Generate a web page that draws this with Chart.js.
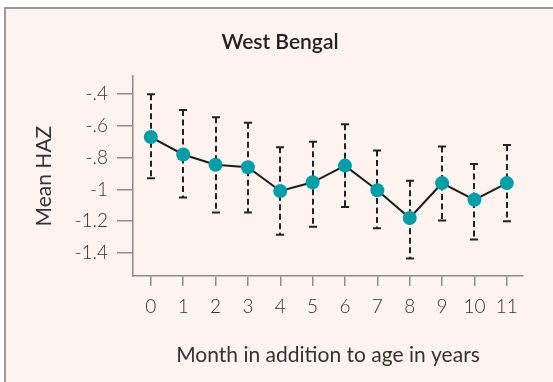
<!DOCTYPE html>
<html>
<head>
<meta charset="utf-8">
<script src="https://cdn.jsdelivr.net/npm/chart.js@4.4.1/dist/chart.umd.min.js"></script>
<style>
body { margin: 0; background: #fff; }
#frame { position: absolute; left: 4px; top: 7px; width: 560px; height: 390px;
  border-left: 2px solid #9b9b9b; border-top: 2px solid #9b9b9b; background: #fef3ee; }
#myChart { position: absolute; left: 0; top: 0; }
</style>
</head>
<body>
<div id="frame"></div>
<canvas id="myChart" width="553" height="382"></canvas>
<script>
// months after whole years, mean HAZ with upper / lower error bar ends
var months = [0, 1, 2, 3, 4, 5, 6, 7, 8, 9, 10, 11];
var meanHAZ = [-0.67, -0.78, -0.845, -0.86, -1.01, -0.955, -0.85, -1.005, -1.18, -0.96, -1.065, -0.96];
var upperCI = [-0.40, -0.50, -0.545, -0.58, -0.735, -0.70, -0.59, -0.755, -0.945, -0.73, -0.84, -0.72];
var lowerCI = [-0.93, -1.05, -1.145, -1.145, -1.285, -1.235, -1.11, -1.245, -1.435, -1.195, -1.315, -1.20];
var yTicks = [-0.4, -0.6, -0.8, -1, -1.2, -1.4];
var yTickLabels = ['-.4', '-.6', '-.8', '-1', '-1.2', '-1.4'];

var axisGrey = '#8c8c8c';

//dashed error bars with solid caps, drawn under the points
var errorBars = {
    id: 'errorBars',
    beforeDatasetsDraw: function(chart) {
        var ctx = chart.ctx;
        var xs = chart.scales.x, ys = chart.scales.y;
        ctx.save();
        ctx.strokeStyle = '#222';
        ctx.lineWidth = 2;
        for (var i = 0; i < months.length; i++) {
            var px = Math.round(xs.getPixelForValue(months[i]));
            var top = ys.getPixelForValue(upperCI[i]);
            var bot = ys.getPixelForValue(lowerCI[i]);
            ctx.setLineDash([6, 3.5]);
            ctx.beginPath();
            ctx.moveTo(px, top);
            ctx.lineTo(px, bot);
            ctx.stroke();
            ctx.setLineDash([]);
            ctx.beginPath();
            ctx.moveTo(px - 4, top); ctx.lineTo(px + 4, top);
            ctx.moveTo(px - 4, bot); ctx.lineTo(px + 4, bot);
            ctx.stroke();
        }
        ctx.restore();
    }
};

Chart.defaults.font.family = 'Lato';

var config = {
    type: 'line',
    data: {
        datasets: [{
            data: months.map(function(m, i) { return {x: m, y: meanHAZ[i]}; }),
            borderColor: '#1c1c1c',
            borderWidth: 2,
            pointBackgroundColor: '#00a0ab',
            pointBorderWidth: 0,
            pointRadius: 7,
            tension: 0
        }]
    },
    options: {
        responsive: false,
        animation: false,
        events: [],
        // left padding only centres the title over the frame
        layout: { padding: { left: 37, right: 30, top: 0, bottom: 0 } },
        plugins: {
            legend: { display: false },
            tooltip: { enabled: false },
            title: {
                display: true,
                text: 'West Bengal',
                color: '#222',
                font: { size: 21, weight: '600' },
                padding: { top: 30, bottom: 21 }
            }
        },
        scales: {
            x: {
                type: 'linear',
                min: -0.55,
                max: 11.5,
                afterBuildTicks: function(scale) {
                    scale.ticks = months.map(function(v) { return {value: v}; });
                },
                afterFit: function(scale) { scale.height = 106; },
                ticks: { color: '#333', font: { size: 19, weight: '300' }, padding: 9, maxRotation: 0, autoSkip: false },
                grid: { drawOnChartArea: false, drawTicks: true, tickLength: 10, color: axisGrey, lineWidth: 1.5 },
                border: { display: true, color: axisGrey, width: 1.5 },
                title: {
                    display: true,
                    text: 'Month in addition to age in years',
                    color: '#333',
                    font: { size: 21 },
                    padding: { top: 0, bottom: 14 }
                }
            },
            y: {
                min: -1.545,
                max: -0.287,
                afterBuildTicks: function(scale) {
                    scale.ticks = yTicks.map(function(v) { return {value: v}; });
                },
                afterFit: function(scale) { scale.width = 96; },
                ticks: {
                    color: '#333',
                    font: { size: 19, weight: '300' },
                    padding: 9,
                    callback: function(value, index) { return yTickLabels[index]; }
                },
                grid: { drawOnChartArea: false, drawTicks: true, tickLength: 16, color: axisGrey, lineWidth: 1.5 },
                border: { display: true, color: axisGrey, width: 1.5 },
                title: {
                    display: true,
                    text: 'Mean HAZ',
                    color: '#333',
                    font: { size: 21 },
                    padding: { top: -5, bottom: 0 }
                }
            }
        }
    },
    plugins: [errorBars]
};

window.onload = function() {
    var ctx = document.getElementById('myChart').getContext('2d');
    window.hazChart = new Chart(ctx, config);
};
</script>
</body>
</html>
